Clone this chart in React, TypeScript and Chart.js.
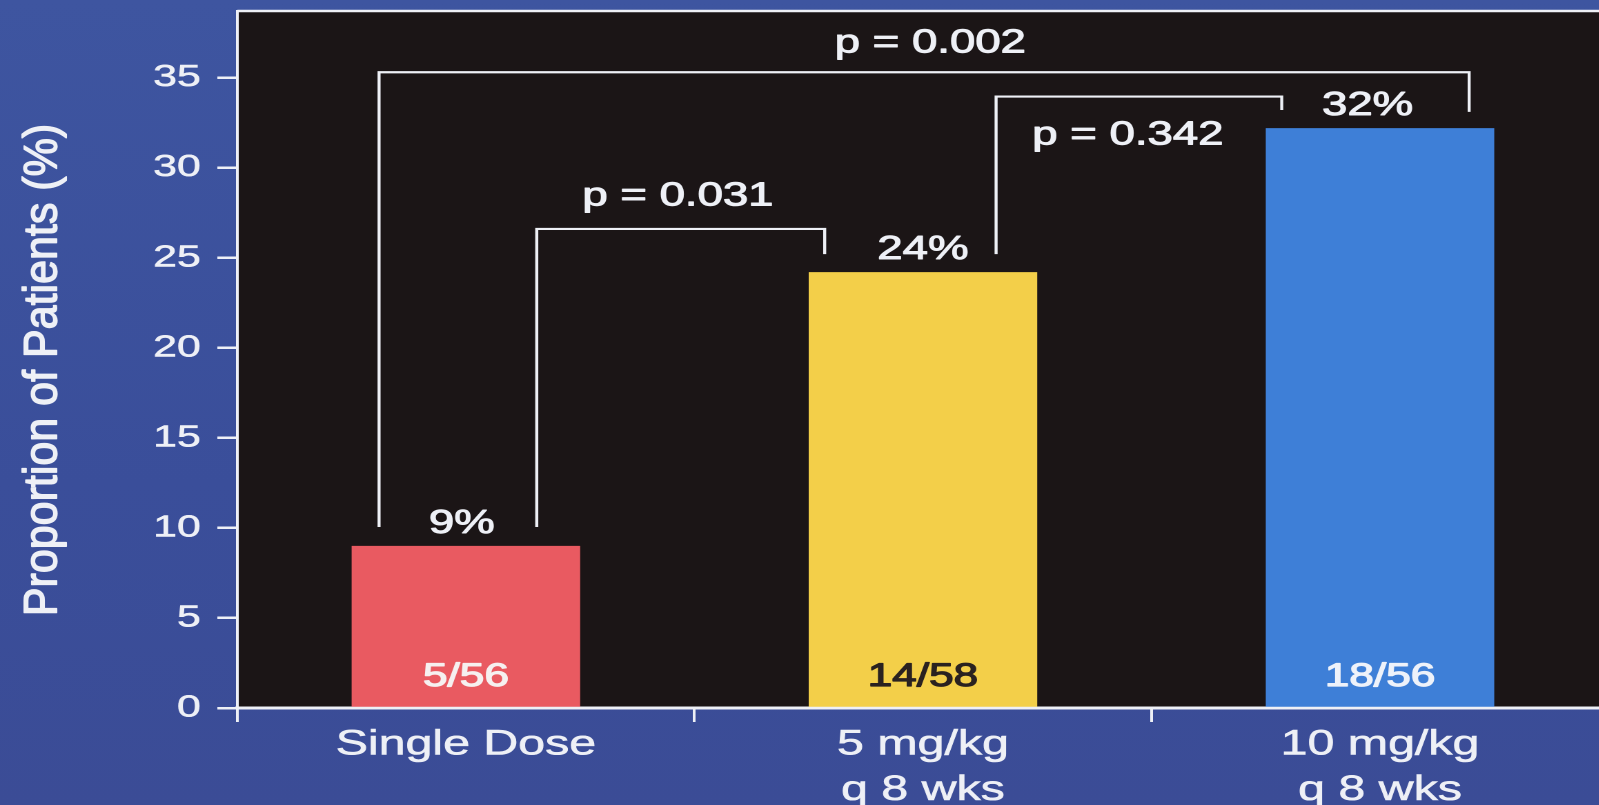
import React, { useEffect, useRef } from "react";
import { Chart, registerables } from "chart.js";

Chart.register(...registerables);

// ---------- data ----------
const categories: string[][] = [["Single Dose"], ["5 mg/kg", "q 8 wks"], ["10 mg/kg", "q 8 wks"]];
const proportions = [9.0, 24.2, 32.2];
const percentLabels = ["9%", "24%", "32%"];
const countLabels = ["5/56", "14/58", "18/56"];
const yStep = 5;
const yMax = 38.7;
const yTitle = "Proportion of Patients (%)";

// comparisons (bar index pairs) and their p values
const comparisonPairs: [number, number][] = [[0, 1], [1, 2], [0, 2]];
const pValueLabels = ["p = 0.031", "p = 0.342", "p = 0.002"];
const bracketTopValues = [26.6, 33.95, 35.3];
const bracketLeftEndValues = [10.05, 25.2, 10.05];
const bracketRightEndValues = [25.2, 33.2, 33.1];
const pLabelValues = [27.9, 31.3, 36.4];

// ---------- styling ----------
const STRETCH = 1.38; // horizontal stretch of the whole slide
const TITLE_STRETCH = 1.1; // the rotated title is stretched less
const W = 1175;
const H = 805;
const LEFT = 172;
const CAT_W = 331.2;
const TOP = 11;
const X_AXIS_H = 97;
const barColors = ["#E95A61", "#F3CF49", "#3E7FD7"];
const countColors = ["#F6F0F0", "#2A2220", "#EEF2FA"];
const legOffsets: [number, number][] = [[0.31, -0.43], [0.32, -0.43], [-0.38, 0.39]];
const pLabelShift = [-2, -8, 4.5];
const percentShift = [-3, 0, -9];
const white = "#EEF0F6";
const FONT = "'Liberation Sans', Arial, Helvetica, sans-serif";

function mediumText(ctx: CanvasRenderingContext2D, text: string, x: number, y: number, color: string, stroke: number) {
  ctx.fillStyle = color;
  ctx.strokeStyle = color;
  ctx.lineWidth = stroke;
  ctx.lineJoin = "round";
  ctx.strokeText(text, x, y);
  ctx.fillText(text, x, y);
}

const annotationPlugin = {
  id: "annotations",
  beforeDraw(chart: any) {
    const { ctx, chartArea } = chart;
    ctx.save();
    ctx.fillStyle = "#1B1516";
    ctx.fillRect(chartArea.left, chartArea.top, chart.width - chartArea.left, chartArea.bottom - chartArea.top);
    ctx.strokeStyle = white;
    ctx.lineWidth = 2.5;
    ctx.beginPath();
    ctx.moveTo(chartArea.left, chartArea.top);
    ctx.lineTo(chart.width, chartArea.top);
    ctx.stroke();
    ctx.restore();
  },
  afterDraw(chart: any) {
    // y axis title
    const { ctx } = chart;
    ctx.save();
    ctx.translate(40.8, 370);
    ctx.scale(TITLE_STRETCH / STRETCH, 1);
    ctx.rotate(-Math.PI / 2);
    ctx.textAlign = "center";
    ctx.textBaseline = "alphabetic";
    ctx.font = `43px ${FONT}`;
    mediumText(ctx, yTitle, 0, 0, white, 1.3);
    ctx.restore();
  },
  afterDatasetsDraw(chart: any) {
    const { ctx } = chart;
    const yScale = chart.scales.y;
    const bars = chart.getDatasetMeta(0).data;
    ctx.save();
    ctx.textAlign = "center";
    ctx.textBaseline = "alphabetic";
    // percent labels above the bars, counts inside the bars
    bars.forEach((bar: any, i: number) => {
      ctx.font = `33px ${FONT}`;
      mediumText(ctx, percentLabels[i], bar.x + percentShift[i], bar.y - 13, white, 1.0);
      ctx.font = `32px ${FONT}`;
      mediumText(ctx, countLabels[i], bar.x, yScale.getPixelForValue(0) - 22, countColors[i], 1.2);
    });
    // brackets
    comparisonPairs.forEach(([a, b], k) => {
      const barA = bars[a];
      const barB = bars[b];
      const xL = barA.x + legOffsets[k][0] * barA.width;
      const xR = barB.x + legOffsets[k][1] * barB.width;
      const yTop = yScale.getPixelForValue(bracketTopValues[k]);
      ctx.strokeStyle = white;
      ctx.lineWidth = 2.2;
      ctx.lineJoin = "miter";
      ctx.beginPath();
      ctx.moveTo(xL, yScale.getPixelForValue(bracketLeftEndValues[k]));
      ctx.lineTo(xL, yTop);
      ctx.lineTo(xR, yTop);
      ctx.lineTo(xR, yScale.getPixelForValue(bracketRightEndValues[k]));
      ctx.stroke();
      ctx.font = `33px ${FONT}`;
      mediumText(ctx, pValueLabels[k], (xL + xR) / 2 + pLabelShift[k], yScale.getPixelForValue(pLabelValues[k]), white, 1.0);
    });
    ctx.restore();
  },
};

export default function App() {
  const canvasRef = useRef<HTMLCanvasElement | null>(null);

  useEffect(() => {
    if (!canvasRef.current) return;
    const chart = new Chart(canvasRef.current, {
      type: "bar",
      data: {
        labels: categories,
        datasets: [
          {
            data: proportions,
            backgroundColor: barColors,
            borderWidth: 0,
            barPercentage: 0.5,
            categoryPercentage: 1.0,
          },
        ],
      },
      options: {
        responsive: false,
        maintainAspectRatio: false,
        animation: false,
        devicePixelRatio: 2,
        layout: { padding: { top: TOP, left: 0, bottom: 0, right: W - (LEFT + 3 * CAT_W) } },
        plugins: { legend: { display: false }, tooltip: { enabled: false } },
        scales: {
          x: {
            offset: true,
            grid: { offset: true, drawOnChartArea: false, color: white, lineWidth: 2, tickLength: 14 },
            border: { color: white, width: 3 },
            ticks: {
              color: white,
              textStrokeColor: white,
              textStrokeWidth: 0.6,
              font: { family: FONT, size: 35, lineHeight: 1.3 },
              padding: 0,
              maxRotation: 0,
              autoSkip: false,
            },
            afterFit: (s: any) => {
              s.height = X_AXIS_H;
              s.paddingLeft = 0;
              s.paddingRight = 0;
            },
          },
          y: {
            min: 0,
            max: yMax,
            ticks: {
              stepSize: yStep,
              includeBounds: false,
              color: white,
              textStrokeColor: white,
              textStrokeWidth: 0.6,
              font: { family: FONT, size: 31 },
              padding: 12,
            },
            grid: { drawOnChartArea: false, color: white, lineWidth: 2.5, tickLength: 14.5 },
            border: { color: white, width: 2 },
            title: { display: false, text: yTitle },
            afterFit: (s: any) => {
              s.width = LEFT;
              s.paddingTop = 0;
              s.paddingBottom = 0;
            },
          },
        },
      },
      plugins: [annotationPlugin],
    });
    return () => chart.destroy();
  }, []);

  return (
    <div
      style={{
        position: "fixed",
        left: 0,
        top: 0,
        width: 1599,
        height: 805,
        overflow: "hidden",
        background: "linear-gradient(180deg, #3E55A0 0%, #3A4E9A 60%, #3B4C96 100%)",
      }}
    >
      <canvas
        ref={canvasRef}
        width={W}
        height={H}
        style={{
          display: "block",
          width: W,
          height: H,
          transform: `scaleX(${STRETCH})`,
          transformOrigin: "0 0",
        }}
      />
    </div>
  );
}
